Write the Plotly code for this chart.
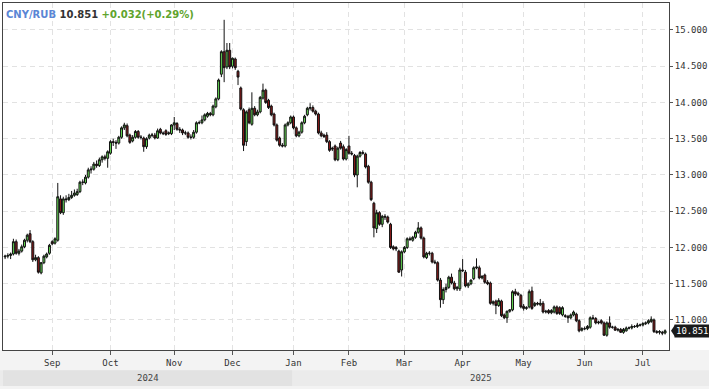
import pandas as pd
import plotly.graph_objects as go

# ---------------- data ----------------
symbol = "CNY/RUB"
last_price = 10.851
change = 0.032
change_pct = 0.29

holidays = ["2025-01-01", "2025-01-02", "2025-01-03"]
dates = [d.strftime("%Y-%m-%d") + " 12:00" for d in pd.bdate_range("2024-08-08", "2025-07-11")
         if d.strftime("%Y-%m-%d") not in holidays]

opens = [
    # Aug
    11.87, 11.88, 11.89, 11.91, 12.08, 11.92, 11.95, 12.01, 12.10, 12.19, 12.08, 11.83, 11.86, 11.65, 11.79, 11.87, 11.92,
    # Sep
    12.08, 12.06, 12.10, 12.67, 12.48, 12.67, 12.66, 12.69, 12.72, 12.73, 12.77, 12.90, 12.89, 12.97, 13.07, 13.08, 13.15, 13.13, 13.21, 13.25, 13.23,
    # Oct
    13.30, 13.46, 13.45, 13.44, 13.52, 13.65, 13.68, 13.55, 13.47, 13.52, 13.60, 13.52, 13.51, 13.39, 13.51, 13.55, 13.55, 13.51, 13.63, 13.58, 13.61, 13.57, 13.57,
    # Nov
    13.69, 13.71, 13.63, 13.62, 13.58, 13.58, 13.52, 13.52, 13.59, 13.72, 13.72, 13.76, 13.81, 13.85, 13.83, 13.94, 14.05, 14.39, 14.70, 14.49, 14.72,
    # Dec
    14.50, 14.60, 14.43, 14.20, 13.90, 13.46, 13.90, 13.70, 13.92, 13.83, 13.87, 14.06, 14.17, 14.03, 13.95, 13.84, 13.69, 13.51, 13.41, 13.40, 13.69, 13.72,
    # Jan
    13.80, 13.65, 13.54, 13.59, 13.72, 13.83, 13.92, 13.93, 13.88, 13.84, 13.58, 13.55, 13.55, 13.46, 13.37, 13.40, 13.21, 13.44, 13.39, 13.22,
    # Feb
    13.40, 13.30, 13.27, 13.00, 13.26, 13.31, 13.29, 13.12, 12.90, 12.61, 12.26, 12.48, 12.32, 12.43, 12.42, 12.32, 12.01, 12.00, 11.95, 11.69,
    # Mar
    11.94, 12.00, 12.12, 12.10, 12.14, 12.21, 12.27, 12.13, 11.86, 11.92, 11.92, 11.80, 11.79, 11.55, 11.28, 11.42, 11.45, 11.59, 11.51, 11.43, 11.43,
    # Apr
    11.69, 11.66, 11.47, 11.50, 11.57, 11.72, 11.72, 11.58, 11.62, 11.52, 11.51, 11.23, 11.26, 11.20, 11.26, 11.07, 11.03, 11.12, 11.14, 11.39, 11.37, 11.34,
    # May
    11.19, 11.16, 11.18, 11.40, 11.20, 11.23, 11.21, 11.23, 11.11, 11.13, 11.10, 11.11, 11.18, 11.17, 11.07, 11.06, 11.05, 11.03, 11.07, 11.08, 10.99, 10.86,
    # Jun
    10.88, 10.88, 10.90, 11.03, 11.02, 10.96, 10.99, 10.96, 10.79, 10.96, 10.90, 10.90, 10.86, 10.87, 10.83, 10.85, 10.89, 10.89, 10.91, 10.91, 10.93,
    # Jul
    10.93, 10.95, 10.96, 10.98, 11.00, 10.84, 10.83, 10.83, 10.82,
]
highs = [
    11.90, 11.92, 11.93, 12.12, 12.11, 11.98, 12.04, 12.12, 12.19, 12.24, 12.10, 11.90, 11.88, 11.80, 11.90, 11.93, 12.05,
    12.10, 12.14, 12.89, 12.72, 12.70, 12.72, 12.74, 12.78, 12.80, 12.81, 12.92, 12.94, 13.00, 13.10, 13.12, 13.18, 13.20, 13.24, 13.27, 13.28, 13.34,
    13.48, 13.50, 13.48, 13.54, 13.67, 13.72, 13.71, 13.57, 13.55, 13.62, 13.62, 13.55, 13.53, 13.52, 13.57, 13.58, 13.58, 13.64, 13.65, 13.60, 13.63, 13.60, 13.70,
    13.80, 13.73, 13.66, 13.64, 13.61, 13.60, 13.56, 13.62, 13.74, 13.75, 13.82, 13.85, 13.87, 13.87, 13.97, 14.07, 14.33, 14.72, 15.14, 14.82, 14.82,
    14.62, 14.62, 14.45, 14.22, 13.92, 13.89, 13.93, 14.14, 13.95, 13.90, 14.09, 14.26, 14.19, 14.05, 13.97, 13.86, 13.71, 13.53, 13.44, 13.71, 13.74, 13.82,
    13.82, 13.67, 13.61, 13.74, 13.83, 13.94, 13.99, 13.96, 13.90, 13.86, 13.61, 13.57, 13.59, 13.48, 13.39, 13.42, 13.39, 13.47, 13.42, 13.37,
    13.54, 13.33, 13.29, 13.28, 13.33, 13.34, 13.31, 13.14, 12.92, 12.63, 12.52, 12.50, 12.45, 12.46, 12.44, 12.34, 12.03, 12.02, 11.97, 11.96,
    12.02, 12.14, 12.15, 12.16, 12.23, 12.35, 12.29, 12.15, 11.94, 11.95, 11.94, 11.83, 11.81, 11.58, 11.45, 11.50, 11.61, 11.64, 11.54, 11.47, 11.72,
    11.84, 11.69, 11.52, 11.56, 11.74, 11.85, 11.75, 11.62, 11.64, 11.55, 11.53, 11.27, 11.28, 11.30, 11.28, 11.09, 11.13, 11.15, 11.41, 11.43, 11.39, 11.36,
    11.22, 11.19, 11.42, 11.46, 11.25, 11.25, 11.29, 11.26, 11.14, 11.15, 11.15, 11.20, 11.20, 11.19, 11.19, 11.08, 11.07, 11.09, 11.13, 11.10, 11.01, 10.90,
    10.91, 10.93, 11.05, 11.07, 11.04, 10.99, 11.01, 10.98, 10.98, 11.05, 10.92, 10.92, 10.89, 10.89, 10.89, 10.91, 10.91, 10.94, 10.93, 10.96, 10.95,
    10.97, 10.98, 11.01, 11.05, 11.02, 10.86, 10.86, 10.85, 10.87,
]
lows = [
    11.84, 11.85, 11.84, 11.89, 11.90, 11.89, 11.93, 11.99, 12.07, 12.06, 11.80, 11.81, 11.64, 11.63, 11.77, 11.85, 11.90,
    12.03, 12.04, 12.08, 12.46, 12.45, 12.62, 12.64, 12.67, 12.70, 12.71, 12.75, 12.86, 12.87, 12.95, 13.02, 13.06, 13.10, 13.11, 13.17, 13.20, 13.10,
    13.28, 13.40, 13.36, 13.42, 13.50, 13.62, 13.52, 13.43, 13.45, 13.50, 13.50, 13.49, 13.32, 13.36, 13.49, 13.52, 13.49, 13.50, 13.56, 13.55, 13.54, 13.55, 13.55,
    13.62, 13.61, 13.58, 13.55, 13.55, 13.50, 13.49, 13.50, 13.57, 13.70, 13.70, 13.74, 13.79, 13.81, 13.81, 13.92, 14.03, 14.35, 14.28, 14.46, 14.46,
    14.47, 14.45, 14.24, 13.89, 13.33, 13.40, 13.70, 13.68, 13.81, 13.81, 13.85, 14.04, 13.98, 13.91, 13.81, 13.67, 13.46, 13.39, 13.38, 13.38, 13.67, 13.70,
    13.63, 13.52, 13.52, 13.57, 13.70, 13.81, 13.89, 13.86, 13.82, 13.56, 13.52, 13.51, 13.44, 13.32, 13.33, 13.19, 13.19, 13.35, 13.20, 13.20,
    13.28, 13.27, 12.97, 12.83, 13.24, 13.28, 13.09, 12.88, 12.64, 12.14, 12.20, 12.30, 12.28, 12.38, 12.33, 11.98, 11.96, 11.95, 11.65, 11.60,
    11.92, 11.98, 12.09, 12.08, 12.12, 12.19, 12.11, 11.85, 11.84, 11.89, 11.78, 11.77, 11.53, 11.17, 11.22, 11.38, 11.43, 11.49, 11.41, 11.40, 11.40,
    11.66, 11.45, 11.44, 11.48, 11.55, 11.70, 11.56, 11.56, 11.50, 11.48, 11.21, 11.20, 11.08, 11.18, 11.04, 11.01, 10.96, 11.10, 11.12, 11.33, 11.33, 11.16,
    11.13, 11.14, 11.16, 11.14, 11.18, 11.20, 11.19, 11.09, 11.09, 11.08, 11.08, 11.09, 11.07, 11.07, 11.05, 11.03, 10.96, 11.01, 11.05, 10.97, 10.83, 10.84,
    10.86, 10.86, 10.88, 11.00, 10.94, 10.94, 10.94, 10.78, 10.77, 10.88, 10.88, 10.85, 10.84, 10.82, 10.81, 10.84, 10.87, 10.87, 10.89, 10.89, 10.91,
    10.91, 10.93, 10.94, 10.96, 10.82, 10.81, 10.80, 10.79, 10.80,
]
closes = [
    11.88, 11.89, 11.91, 12.08, 11.92, 11.95, 12.01, 12.10, 12.17, 12.08, 11.83, 11.86, 11.66, 11.79, 11.88, 11.91, 12.03,
    12.05, 12.12, 12.70, 12.48, 12.67, 12.66, 12.69, 12.72, 12.75, 12.77, 12.90, 12.90, 12.97, 13.07, 13.08, 13.15, 13.13, 13.21, 13.25, 13.23, 13.32,
    13.46, 13.45, 13.44, 13.52, 13.65, 13.69, 13.54, 13.45, 13.52, 13.60, 13.52, 13.52, 13.39, 13.50, 13.55, 13.55, 13.51, 13.61, 13.58, 13.57, 13.56, 13.58, 13.69,
    13.72, 13.63, 13.62, 13.58, 13.58, 13.52, 13.52, 13.59, 13.72, 13.72, 13.76, 13.83, 13.85, 13.83, 13.95, 14.05, 14.31, 14.70, 14.48, 14.72, 14.49,
    14.61, 14.48, 14.35, 13.91, 13.41, 13.87, 13.72, 13.92, 13.83, 13.87, 14.07, 14.17, 14.00, 13.93, 13.83, 13.69, 13.48, 13.41, 13.40, 13.69, 13.72, 13.80,
    13.65, 13.54, 13.59, 13.72, 13.81, 13.92, 13.93, 13.88, 13.84, 13.58, 13.54, 13.53, 13.46, 13.34, 13.36, 13.21, 13.37, 13.37, 13.22, 13.35,
    13.30, 13.29, 13.00, 13.26, 13.31, 13.30, 13.11, 12.90, 12.66, 12.27, 12.48, 12.32, 12.43, 12.42, 12.35, 12.00, 11.98, 11.98, 11.66, 11.94,
    12.00, 12.12, 12.11, 12.14, 12.21, 12.27, 12.13, 11.87, 11.92, 11.92, 11.80, 11.79, 11.55, 11.28, 11.42, 11.45, 11.59, 11.51, 11.43, 11.45, 11.69,
    11.68, 11.47, 11.50, 11.55, 11.72, 11.73, 11.58, 11.60, 11.52, 11.50, 11.23, 11.25, 11.20, 11.27, 11.06, 11.03, 11.12, 11.14, 11.39, 11.36, 11.35, 11.18,
    11.16, 11.17, 11.39, 11.16, 11.23, 11.22, 11.23, 11.11, 11.12, 11.10, 11.13, 11.18, 11.09, 11.09, 11.17, 11.05, 11.03, 11.07, 11.11, 10.99, 10.85, 10.88,
    10.88, 10.91, 11.03, 11.02, 10.96, 10.97, 10.96, 10.79, 10.96, 10.90, 10.90, 10.86, 10.87, 10.83, 10.87, 10.89, 10.89, 10.91, 10.91, 10.93, 10.93,
    10.95, 10.96, 10.99, 11.01, 10.84, 10.83, 10.84, 10.819, 10.851,
]

month_ticks = ["2024-09-02 12:00", "2024-10-01 12:00", "2024-11-01 12:00", "2024-12-02 12:00",
               "2025-01-06 12:00", "2025-02-03 12:00", "2025-03-03 12:00", "2025-04-01 12:00",
               "2025-05-01 12:00", "2025-06-02 12:00", "2025-07-01 12:00"]
month_labels = ["Sep", "Oct", "Nov", "Dec", "Jan", "Feb", "Mar", "Apr", "May", "Jun", "Jul"]
year_labels = ["2024", "2025"]
year_boundary = "2025-01-06"

assert len(dates) == len(opens) == len(highs) == len(lows) == len(closes), (
    len(dates), len(opens), len(highs), len(lows), len(closes))

# ---------------- figure ----------------
MONO = "DejaVu Sans Mono"
fig = go.Figure(go.Candlestick(
    x=dates, open=opens, high=highs, low=lows, close=closes,
    increasing=dict(line=dict(color="#111111", width=1), fillcolor="#66dd55"),
    decreasing=dict(line=dict(color="#111111", width=1), fillcolor="#8b1a1a"),
    whiskerwidth=0, hoverinfo="skip", showlegend=False,
))

grid = dict(showgrid=True, gridcolor="#e2e2e2", griddash="5px,4px", gridwidth=1)

fig.update_layout(
    width=709, height=389,
    margin=dict(l=2, r=38, t=3, b=39),
    paper_bgcolor="white", plot_bgcolor="white",
    showlegend=False, boxgap=0.0,
    xaxis=dict(
        type="date", rangeslider=dict(visible=False),
        range=["2024-08-07 18:00", "2025-07-14 22:00"],
        rangebreaks=[dict(bounds=["sat", "mon"]), dict(values=holidays)],
        tickmode="array", tickvals=month_ticks, ticktext=month_labels,
        ticks="outside", ticklen=4, tickcolor="#555555",
        showline=True, linecolor="#444444", linewidth=1, mirror=True,
        tickfont=dict(family=MONO, size=9, color="#333333"),
        zeroline=False, **grid,
    ),
    yaxis=dict(
        side="right", range=[10.586, 15.372], tick0=11, dtick=0.5, tickformat=".3f",
        ticks="outside", ticklen=3, tickcolor="#555555",
        showline=True, linecolor="#444444", linewidth=1, mirror=True,
        tickfont=dict(family=MONO, size=9, color="#333333"),
        zeroline=False, **grid,
    ),
)

shapes = [
    # light background below the plot
    dict(type="rect", xref="paper", yref="paper", x0=-0.01, x1=1.1, y0=-0.2, y1=0,
         fillcolor="#f3f3f3", line=dict(width=0), layer="below"),
    # 2025 band (full width, lighter)
    dict(type="rect", xref="paper", yref="paper", x0=-0.01, x1=1.1, y0=-0.104, y1=-0.058,
         fillcolor="#ebebeb", line=dict(width=0), layer="below"),
    # 2024 band (darker), ends at year boundary
    dict(type="rect", xref="x", yref="paper", x0="2024-08-01", x1=year_boundary, y0=-0.104, y1=-0.058,
         fillcolor="#e2e2e2", line=dict(width=0), layer="below"),
    # arrow of the last-price tag
    dict(type="path", xref="paper", xsizemode="pixel", xanchor=1,
         yref="y", ysizemode="pixel", yanchor=last_price,
         path="M 2 0 L 6 6 L 6 -6 Z", fillcolor="#1a1a1a", line=dict(width=0)),
]
fig.update_layout(shapes=shapes)

annotations = [
    dict(xref="paper", yref="paper", x=0.0015, y=0.968, xanchor="left", yanchor="middle",
         showarrow=False,
         text=(f"<b><span style='color:#5a86d5'>{symbol}</span> "
               f"<span style='color:#333333'>{last_price:.3f}</span> "
               f"<span style='color:#5fa42d'>+{change:.3f}(+{change_pct:.2f}%)</span></b>"),
         font=dict(family="DejaVu Sans", size=10)),
    dict(xref="paper", yref="y", x=1, y=last_price, xanchor="left", yanchor="middle", xshift=5,
         showarrow=False, text=f"{last_price:.3f}", bgcolor="#1a1a1a", borderpad=1,
         font=dict(family=MONO, size=9, color="white")),
    dict(xref="paper", yref="paper", x=0.218, y=-0.081, xanchor="center", yanchor="middle",
         showarrow=False, text=year_labels[0], font=dict(family=MONO, size=9, color="#444444")),
    dict(xref="paper", yref="paper", x=0.718, y=-0.081, xanchor="center", yanchor="middle",
         showarrow=False, text=year_labels[1], font=dict(family=MONO, size=9, color="#444444")),
]
fig.update_layout(annotations=annotations)

fig.write_html("out.html", config={"displayModeBar": False},
               post_script="document.body.style.margin='0';")
